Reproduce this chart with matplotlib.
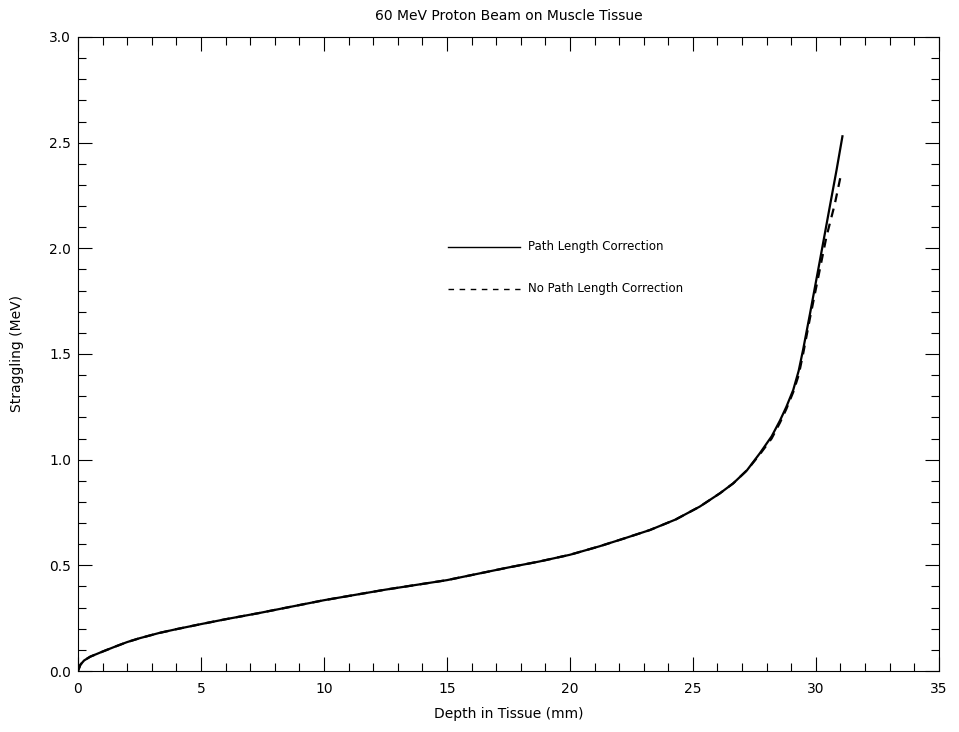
import matplotlib
matplotlib.use("Agg")
import matplotlib.pyplot as plt
from matplotlib.ticker import MultipleLocator, FormatStrFormatter

# values
depth_corr = [0.0, 0.1, 0.25, 0.5, 1.0, 1.5, 2.0, 2.5, 3.3, 4.0, 5.0, 6.0, 7.35, 10.0,
              12.5, 15.0, 17.5, 18.75, 20.0, 21.2, 22.2, 23.25, 24.3, 25.28, 26.1,
              26.64, 27.2, 27.72, 28.2, 28.54, 28.8, 29.08, 29.3, 29.48, 29.76, 30.16,
              30.57, 30.84, 31.08]
strag_corr = [0.0, 0.03, 0.05, 0.068, 0.092, 0.115, 0.137, 0.155, 0.18, 0.198, 0.222,
              0.245, 0.274, 0.335, 0.385, 0.43, 0.49, 0.518, 0.55, 0.59, 0.627, 0.667,
              0.717, 0.778, 0.841, 0.888, 0.95, 1.03, 1.11, 1.185, 1.25, 1.33, 1.42,
              1.52, 1.69, 1.94, 2.20, 2.37, 2.53]

depth_nocorr = [0.0, 0.1, 0.25, 0.5, 1.0, 1.5, 2.0, 2.5, 3.3, 4.0, 5.0, 6.0, 7.35, 10.0,
                12.5, 15.0, 17.5, 18.75, 20.0, 21.2, 22.2, 23.25, 24.3, 25.28, 26.1,
                26.64, 27.2, 27.72, 28.2, 28.54, 28.8, 29.08, 29.3, 29.48, 29.76, 30.16,
                30.43, 30.77, 31.04]
strag_nocorr = [0.0, 0.03, 0.05, 0.068, 0.092, 0.115, 0.137, 0.155, 0.18, 0.198, 0.222,
                0.245, 0.274, 0.335, 0.385, 0.43, 0.49, 0.518, 0.55, 0.59, 0.627, 0.667,
                0.717, 0.778, 0.841, 0.888, 0.95, 1.025, 1.10, 1.175, 1.24, 1.32, 1.40,
                1.50, 1.67, 1.90, 2.055, 2.21, 2.36]

fig = plt.figure(figsize=(9.59, 7.32), dpi=100)
ax = fig.add_axes([0.0813, 0.0833, 0.8977, 0.8662])

ax.plot(depth_corr, strag_corr, color="black", lw=1.6)
ax.plot(depth_nocorr, strag_nocorr, color="black", lw=1.6, ls=(0, (4, 3)))

# in-plot legend, as in the original
ax.plot([15.04, 17.97], [2.007, 2.007], color="black", lw=1.0)
ax.plot([15.04, 17.97], [1.808, 1.808], color="black", lw=1.0, ls=(0, (4, 4)))
ax.text(18.3, 2.007, "Path Length Correction", fontsize=8.5, va="center")
ax.text(18.3, 1.808, "No Path Length Correction", fontsize=8.5, va="center")

ax.set_xlim(0, 35)
ax.set_ylim(0, 3.0)
ax.xaxis.set_major_locator(MultipleLocator(5))
ax.xaxis.set_minor_locator(MultipleLocator(1))
ax.yaxis.set_major_locator(MultipleLocator(0.5))
ax.yaxis.set_minor_locator(MultipleLocator(0.1))
ax.yaxis.set_major_formatter(FormatStrFormatter("%.1f"))
ax.tick_params(which="both", direction="in", top=True, right=True, labelsize=10, width=0.8)
ax.tick_params(which="major", length=10)
ax.tick_params(which="minor", length=6)
ax.tick_params(axis="x", pad=8)
ax.tick_params(axis="y", pad=5)
for s in ax.spines.values():
    s.set_linewidth(0.8)

ax.set_title("60 MeV Proton Beam on Muscle Tissue", fontsize=10, pad=12)
ax.set_xlabel("Depth in Tissue (mm)", fontsize=10, labelpad=8)
ax.set_ylabel("Straggling (MeV)", fontsize=10, labelpad=18)

fig.savefig("out.png", dpi=100)
